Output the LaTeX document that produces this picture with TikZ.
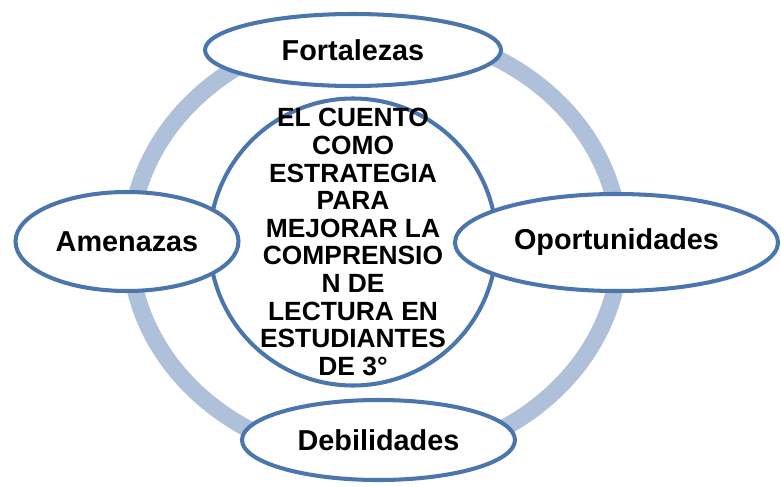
\documentclass[tikz,border=0pt]{standalone}
\usepackage{fontspec}
\setmainfont{Liberation Sans}
\usetikzlibrary{shapes.geometric}
\definecolor{borde}{RGB}{74,118,173}
\definecolor{anillo}{RGB}{175,192,219}

\begin{document}
\begin{tikzpicture}[
    campo/.style={ellipse, draw=borde, line width=2.3pt, fill=white, inner sep=0pt,
        font=\fontsize{16.4}{19}\selectfont\bfseries},
    nucleo/.style={circle, draw=borde, line width=2.3pt, fill=white, inner sep=0pt}
]
    % Page frame
    \useasboundingbox (0,0) rectangle (15.62,9.72);

    % Background ring
    \coordinate (centro) at (7.50,4.82);
    \draw[anillo, line width=0.34cm] (centro) ellipse (4.9 and 4.3);

    % Central topic
    \node[nucleo, minimum size=5.74cm] (tema) at (7.06,4.88) {};
    \node[align=center, font=\fontsize{15}{15.7}\selectfont\bfseries] (titulo) at (tema)
        {EL CUENTO\\COMO\\ESTRATEGIA\\PARA\\MEJORAR LA\\COMPRENSIO\\N DE\\LECTURA EN\\ESTUDIANTES\\DE 3°};

    % Four fields
    \node[campo, minimum width=5.92cm, minimum height=1.44cm] (fort) at (7.06,8.72) {Fortalezas};
    \node[campo, minimum width=4.46cm, minimum height=1.98cm] (amen) at (2.54,4.89) {Amenazas};
    \node[campo, minimum width=6.46cm, minimum height=1.94cm] (opor) at (12.33,4.87) {Oportunidades};
    \node[campo, minimum width=5.46cm, minimum height=1.60cm] (debi) at (7.57,0.92) {Debilidades};
\end{tikzpicture}
\end{document}
